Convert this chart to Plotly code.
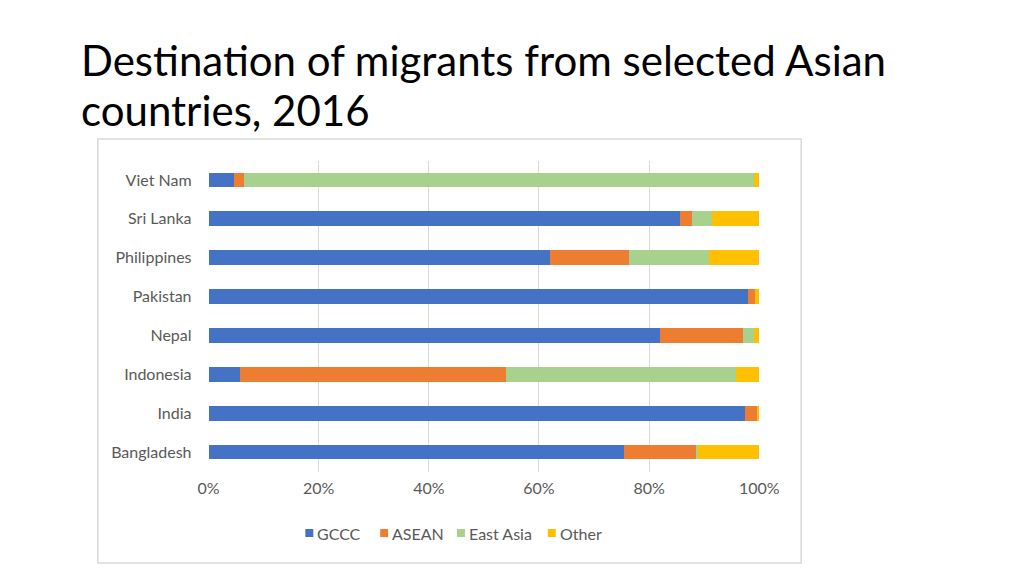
import plotly.graph_objects as go

countries = ["Bangladesh", "India", "Indonesia", "Nepal", "Pakistan", "Philippines", "Sri Lanka", "Viet Nam"]
gccc = [75.4, 97.4, 5.8, 81.9, 98.0, 62.0, 85.6, 4.7]
asean = [13.2, 2.1, 48.2, 15.1, 1.2, 14.4, 2.2, 1.7]
east_asia = [0.2, 0.0, 41.7, 2.0, 0.1, 14.5, 3.6, 92.7]
other = [11.2, 0.5, 4.3, 1.0, 0.7, 9.1, 8.6, 0.9]

series_names = ["GCCC", "ASEAN", "East Asia", "Other"]
series_vals = [gccc, asean, east_asia, other]
colors = ["#4472C4", "#ED7D31", "#A9D18E", "#FFC000"]

W, H = 1024, 576
FONT = "Lato, sans-serif"


def px(X):
    # horizontal screen pixel -> paper fraction
    return ((X - 18) / 0.971) / W


def py(Y):
    # vertical screen pixel -> paper fraction
    return 1 - (Y - 8) / H


fig = go.Figure()
for name, vals, c in zip(series_names, series_vals, colors):
    fig.add_trace(go.Bar(y=countries, x=[v / 100 for v in vals], name=name,
                         orientation="h", showlegend=False,
                         marker=dict(color=c, line=dict(width=0))))

# custom legend (layout only): square swatch + label
legend_x = [305, 380, 457, 548]
shapes = [dict(type="rect", xref="paper", yref="paper",
               x0=px(97), x1=px(802), y0=py(563), y1=py(139),
               line=dict(color="#d9d9d9", width=1.5), layer="below")]
annotations = []
for lx, name, c in zip(legend_x, series_names, colors):
    shapes.append(dict(type="rect", xref="paper", yref="paper",
                       x0=px(lx), x1=px(lx + 8), y0=py(537), y1=py(529),
                       fillcolor=c, line=dict(width=0)))
    annotations.append(dict(text=name, xref="paper", yref="paper",
                            x=px(lx + 10), y=py(533), xanchor="left", yanchor="middle",
                            showarrow=False, font=dict(family=FONT, size=16, color="#595959")))

annotations.append(dict(text="Destination of migrants from selected Asian",
                        xref="paper", yref="paper", x=px(80) - 2 / W, y=py(60),
                        xanchor="left", yanchor="middle", showarrow=False,
                        font=dict(family=FONT, size=42, color="#000000")))
annotations.append(dict(text="countries, 2016",
                        xref="paper", yref="paper", x=px(80) - 2 / W, y=py(110),
                        xanchor="left", yanchor="middle", showarrow=False,
                        font=dict(family=FONT, size=42, color="#000000")))

fig.update_layout(
    width=W, height=H, barmode="stack", bargap=0.62,
    paper_bgcolor="white", plot_bgcolor="white",
    margin=dict(l=0, r=0, t=0, b=0),
    font=dict(family=FONT, color="#595959", size=16),
    xaxis=dict(domain=[px(208), px(760)], range=[0, 1], tickformat=".0%",
               dtick=0.2, showgrid=True, gridcolor="#d9d9d9", gridwidth=1,
               zeroline=False, showline=False, ticks="", ticklabelstandoff=5,
               tickfont=dict(size=16, color="#595959")),
    yaxis=dict(domain=[py(471.5), py(160.5)], showgrid=False,
               showline=False, ticks="", ticklabelstandoff=16,
               tickfont=dict(size=16, color="#595959")),
    showlegend=False,
    shapes=shapes,
    annotations=annotations,
)

fig.write_html("out.html")
